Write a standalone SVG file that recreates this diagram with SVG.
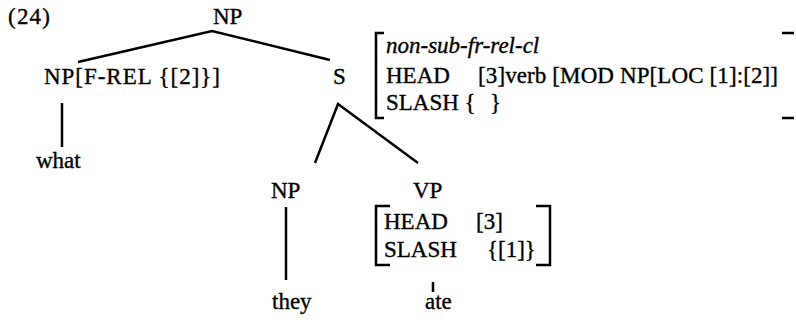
<svg xmlns="http://www.w3.org/2000/svg" width="796" height="323" viewBox="0 0 796 323">
<style>
text{font-family:"Liberation Serif","Times New Roman",serif;font-size:23px;fill:#000;stroke:#000;stroke-width:0.35}
.it{font-style:italic}
.ln{stroke:#000;stroke-width:2.5;fill:none;stroke-linecap:butt}
</style>
<rect width="796" height="323" fill="#fff"/>
<text x="8" y="24" textLength="42">(24)</text>
<g id="np-root"><text x="213" y="24">NP</text></g>
<g id="np-what"><text x="44" y="84" textLength="176">NP[F-REL {[2]}]</text></g>
<g id="what"><text x="36" y="168">what</text></g>
<g id="s">
<text x="333" y="84">S</text>
<path class="ln" d="M384 33H376V118H384M782 33H794M782 118H794"/>
<text class="it" x="386" y="53">non-sub-fr-rel-cl</text>
<text x="386" y="83">HEAD</text>
<text x="478" y="83" textLength="300">[3]verb [MOD NP[LOC [1]:[2]]</text>
<text x="386" y="110">SLASH {</text>
<text x="490" y="110">}</text>
</g>
<g id="np-they"><text x="271" y="198">NP</text></g>
<g id="vp">
<text x="413" y="198">VP</text>
<path class="ln" d="M390 206H376V265H390M536 206H550V265H536"/>
<text x="384" y="229">HEAD</text>
<text x="476" y="229">[3]</text>
<text x="384" y="257">SLASH</text>
<text x="487" y="257">{[1]}</text>
</g>
<g id="they"><text x="272" y="309">they</text></g>
<g id="ate"><text x="425" y="309">ate</text></g>
<g id="connectors">
<path class="ln" d="M78 62L212 31L330 60"/>
<path class="ln" d="M62 103V147"/>
<path class="ln" d="M315 163L338 104L418 163"/>
<path class="ln" d="M286 207V280"/>
<path class="ln" d="M433 282V292"/>
</g>
</svg>
